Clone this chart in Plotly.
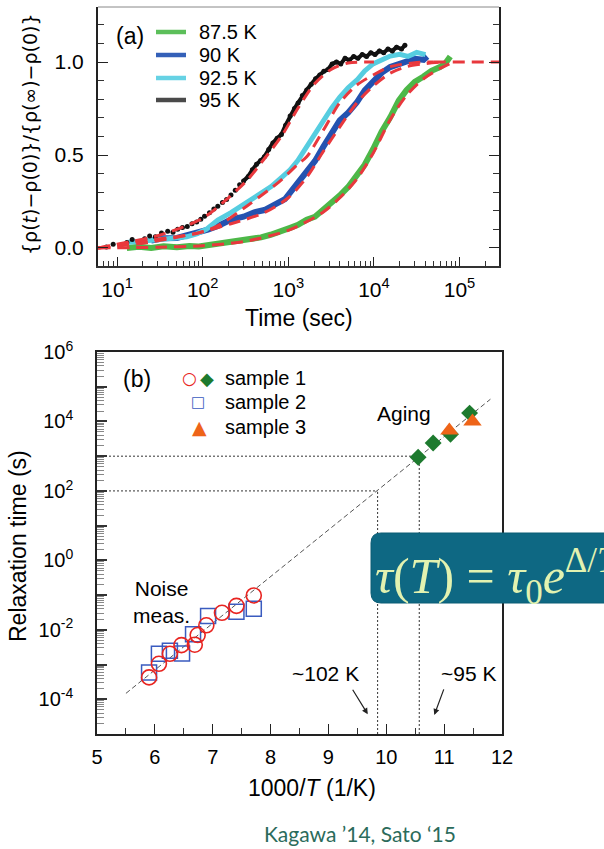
import plotly.graph_objects as go

W, H = 604, 849

# ---------------- panel (a) data : time (s) vs normalised resistivity ----------------
t_875 = [13, 18, 25, 35, 50, 70, 90, 120, 160, 210, 280, 370, 480, 620, 800, 1050, 1300, 1640,
         2050, 2570, 3200, 3980, 5000, 6300, 7800, 9800, 12300, 15500, 19500, 24000, 30000,
         38000, 47000, 59000, 68000, 78000]
r_875 = [0.0, 0.006, 0.0, 0.009, 0.004, 0.011, 0.008, 0.016, 0.02, 0.026, 0.034, 0.046, 0.057,
         0.071, 0.086, 0.108, 0.124, 0.152, 0.168, 0.206, 0.238, 0.282, 0.328, 0.388, 0.448,
         0.532, 0.626, 0.703, 0.792, 0.848, 0.893, 0.922, 0.953, 0.973, 0.992, 1.03]

t_90 = [25, 35, 50, 70, 90, 115, 150, 214, 300, 400, 525, 700, 912, 1050, 1300, 1640, 2050,
        2570, 3200, 3980, 5000, 6300, 7800, 9770, 12300, 15500, 19500, 24000, 30000, 38000, 42000]
r_90 = [0.04, 0.052, 0.054, 0.072, 0.079, 0.098, 0.118, 0.152, 0.168, 0.192, 0.204, 0.232,
        0.262, 0.298, 0.352, 0.402, 0.468, 0.545, 0.618, 0.686, 0.728, 0.782, 0.848, 0.9,
        0.942, 0.973, 0.99, 1.0, 1.018, 1.012, 1.03]

t_925 = [13, 20, 30, 45, 65, 85, 110, 150, 214, 339, 450, 630, 850, 1050, 1290, 1640, 2050,
         2570, 3200, 3980, 5000, 6300, 7800, 9770, 12300, 15500, 20000, 25000, 31600, 40000]
r_925 = [0.03, 0.036, 0.04, 0.052, 0.06, 0.076, 0.1, 0.15, 0.19, 0.25, 0.29, 0.33, 0.382,
         0.42, 0.47, 0.545, 0.62, 0.688, 0.752, 0.81, 0.862, 0.902, 0.952, 0.99, 1.012, 1.032,
         1.042, 1.03, 1.052, 1.04]

t_95 = [7.5, 9, 11, 13, 15, 18, 21, 24, 28, 33, 39, 45, 51, 58, 66, 75, 85, 95, 105, 120,
        135, 150, 170, 190, 214, 240, 270, 300, 340, 380, 425, 475, 525, 590, 660, 740, 830,
        930, 1050, 1180, 1300, 1460, 1640, 1850, 2080, 2330, 2600, 2900, 3250, 3650, 4100,
        4600, 5150, 5800, 6500, 7300, 8200, 9200, 10300, 11600, 13000, 14600, 16400, 18400,
        21000, 23000]
r_95 = [0.005, 0.02, 0.01, 0.03, 0.045, 0.035, 0.05, 0.065, 0.06, 0.08, 0.09, 0.085, 0.10,
        0.11, 0.115, 0.13, 0.14, 0.155, 0.17, 0.19, 0.21, 0.225, 0.245, 0.26, 0.285, 0.31,
        0.34, 0.36, 0.385, 0.42, 0.45, 0.47, 0.49, 0.53, 0.565, 0.59, 0.61, 0.66, 0.71, 0.75,
        0.78, 0.82, 0.85, 0.88, 0.91, 0.93, 0.95, 0.96, 0.99, 1.00, 0.99, 1.02, 1.01, 1.03,
        1.02, 1.04, 1.03, 1.05, 1.04, 1.06, 1.05, 1.07, 1.06, 1.08, 1.07, 1.09]

# fitted curves (red dashed)
fit_875_t = [6, 30, 100, 300, 1000, 2500, 4000, 6300, 9800, 15500, 24000, 38000, 59000, 80000]
fit_875_r = [0.0, 0.004, 0.012, 0.034, 0.095, 0.19, 0.27, 0.37, 0.51, 0.69, 0.82, 0.91, 0.965, 0.995]
fit_90_t = [6, 23, 85, 214, 525, 1000, 1640, 2570, 3980, 6300, 9770, 15500, 24000, 38000, 63000]
fit_90_r = [0.0, 0.03, 0.08, 0.13, 0.19, 0.27, 0.38, 0.52, 0.65, 0.78, 0.87, 0.94, 0.975, 0.99, 1.0]
fit_925_t = [6, 15, 89, 151, 339, 800, 1290, 1640, 2570, 3980, 6300, 9770, 15500, 31600, 50000]
fit_925_r = [0.0, 0.03, 0.08, 0.12, 0.23, 0.36, 0.45, 0.49, 0.634, 0.78, 0.876, 0.93, 0.975, 0.997, 1.0]
fit_95_t = [6, 10, 32, 100, 200, 339, 525, 830, 1290, 2000, 3160, 5000, 10000]
fit_95_r = [0.0, 0.02, 0.07, 0.16, 0.27, 0.37, 0.48, 0.60, 0.75, 0.88, 0.96, 0.995, 1.0]
plateau_t = [50000, 300000]
plateau_r = [1.0, 1.0]

legend_a_labels = ["87.5 K", "90 K", "92.5 K", "95 K"]
legend_a_colors = ["#5cbf5a", "#3460b8", "#66d2e4", "#4a4a4a"]

a_xtick_vals = [10, 100, 1000, 10000, 100000]
a_xtick_text = ["10<sup>1</sup>", "10<sup>2</sup>", "10<sup>3</sup>", "10<sup>4</sup>", "10<sup>5</sup>"]
a_ytick_vals = [0.0, 0.5, 1.0]
a_ytick_text = ["0.0", "0.5", "1.0"]

# ---------------- panel (b) data : 1000/T vs relaxation time ----------------
s1_noise_x = [5.90, 6.07, 6.26, 6.46, 6.69, 6.74, 6.89, 7.16, 7.41, 7.71]
s1_noise_tau = [4.27e-4, 1.05e-3, 2.04e-3, 3.63e-3, 3.72e-3, 7.08e-3, 1.35e-2, 3.09e-2, 4.9e-2, 9.77e-2]
s2_noise_x = [5.90, 6.07, 6.26, 6.47, 6.66, 6.92, 7.41, 7.71]
s2_noise_tau = [5.89e-4, 2.04e-3, 2.51e-3, 2.09e-3, 7.41e-3, 2.51e-2, 3.31e-2, 4.07e-2]
s1_aging_x = [10.55, 10.81, 11.11, 11.44]
s1_aging_tau = [933, 2400, 4270, 17400]
s3_aging_x = [11.09, 11.49]
s3_aging_tau = [5500, 10000]
arrh_x = [5.5, 11.8]
arrh_tau = [1.48e-4, 4.37e4]
guide_x = [9.85, 10.57]
guide_tau = [1e2, 1e3]

b_xtick_vals = [5, 6, 7, 8, 9, 10, 11, 12]
b_ytick_exps = list(range(-5, 7))
b_ytick_vals = [10.0 ** e for e in b_ytick_exps]
b_ytick_text = [("10<sup>%d</sup>" % e) if e % 2 == 0 else "" for e in b_ytick_exps]

FONT = "Liberation Sans, Arial, sans-serif"
RED = "#e8383d"

def P(x, y):
    return x / W, 1 - y / H

fig = go.Figure()

# ---- panel (a) traces ----
fig.add_trace(go.Scatter(x=t_875, y=r_875, mode="lines", line=dict(color="#4db848", width=6),
                         xaxis="x", yaxis="y"))
fig.add_trace(go.Scatter(x=t_90, y=r_90, mode="lines", line=dict(color="#2452b0", width=6),
                         xaxis="x", yaxis="y"))
fig.add_trace(go.Scatter(x=t_925, y=r_925, mode="lines", line=dict(color="#56cde0", width=5),
                         xaxis="x", yaxis="y"))
hi = [i for i, t in enumerate(t_95) if t >= 300]
fig.add_trace(go.Scatter(x=[t_95[i] for i in hi], y=[r_95[i] for i in hi], mode="lines",
                         line=dict(color="#111111", width=4), xaxis="x", yaxis="y"))
fig.add_trace(go.Scatter(x=t_95, y=r_95, mode="markers", marker=dict(color="#111111", size=5),
                         xaxis="x", yaxis="y"))
for ft, fr in [(fit_875_t, fit_875_r), (fit_90_t, fit_90_r), (fit_925_t, fit_925_r),
               (fit_95_t, fit_95_r), (plateau_t, plateau_r)]:
    fig.add_trace(go.Scatter(x=ft, y=fr, mode="lines", line=dict(color=RED, width=3, dash="12px,7px",
                             shape="spline", smoothing=0.8), xaxis="x", yaxis="y"))

# ---- panel (b) traces ----
for gx, gt in zip(guide_x, guide_tau):
    fig.add_trace(go.Scatter(x=[5, gx], y=[gt, gt], mode="lines",
                             line=dict(color="#333333", width=1, dash="2px,2px"), xaxis="x2", yaxis="y2"))
    fig.add_trace(go.Scatter(x=[gx, gx], y=[1e-5, gt], mode="lines",
                             line=dict(color="#333333", width=1, dash="2px,2px"), xaxis="x2", yaxis="y2"))
fig.add_trace(go.Scatter(x=arrh_x, y=arrh_tau, mode="lines",
                         line=dict(color="#555555", width=1, dash="5px,3px"), xaxis="x2", yaxis="y2"))
fig.add_trace(go.Scatter(x=s2_noise_x, y=s2_noise_tau, mode="markers",
                         marker=dict(symbol="square-open", size=15, color="#3a5bbf", line=dict(width=1.5)),
                         xaxis="x2", yaxis="y2"))
fig.add_trace(go.Scatter(x=s1_noise_x, y=s1_noise_tau, mode="markers",
                         marker=dict(symbol="circle-open", size=15, color="#e82420", line=dict(width=1.6)),
                         xaxis="x2", yaxis="y2"))
fig.add_trace(go.Scatter(x=s1_aging_x, y=s1_aging_tau, mode="markers",
                         marker=dict(symbol="diamond", size=13, color="#1d7a2e"),
                         xaxis="x2", yaxis="y2"))
fig.add_trace(go.Scatter(x=s3_aging_x, y=s3_aging_tau, mode="markers",
                         marker=dict(symbol="triangle-up", size=16, color="#ee6418"),
                         xaxis="x2", yaxis="y2"))

# ---- axes ----
a_minor = [m * 10 ** e for e in range(0, 6) for m in range(2, 10)]
b_minor_y = [m * 10.0 ** e for e in range(-5, 6) for m in range(2, 10)]
b_minor_x = [v + 0.5 for v in b_xtick_vals[:-1]]

tickfont_a = dict(family=FONT, size=21, color="black")
tickfont_b = dict(family=FONT, size=20, color="black")

fig.update_layout(
    width=W, height=H, margin=dict(l=0, r=0, t=0, b=0),
    paper_bgcolor="white", plot_bgcolor="white", showlegend=False,
    font=dict(family=FONT, color="black"),
    xaxis=dict(type="log", range=[0.777, 5.461], domain=[98 / W, 499 / W], anchor="y",
               tickmode="array", tickvals=a_xtick_vals, ticktext=a_xtick_text,
               ticks="inside", ticklen=9, tickwidth=1.3, tickcolor="#222",
               showline=True, linecolor="#333", linewidth=2, mirror=False,
               showgrid=False, zeroline=False, tickfont=tickfont_a, ticklabelstandoff=4,
               minor=dict(tickmode="array", tickvals=a_minor, ticks="inside", ticklen=5,
                          tickwidth=1, tickcolor="#333", showgrid=False),
               automargin=False),
    yaxis=dict(range=[-0.097, 1.296], domain=[1 - 266 / H, 1 - 7 / H], anchor="x",
               tickmode="array", tickvals=a_ytick_vals, ticktext=a_ytick_text,
               ticks="inside", ticklen=10, tickwidth=1.3, tickcolor="#222",
               showline=True, linecolor="#222", linewidth=2, mirror="ticks",
               showgrid=False, zeroline=False, tickfont=tickfont_a, ticklabelstandoff=8,
               minor=dict(dtick=0.1, tick0=0, ticks="inside", ticklen=6, tickwidth=1,
                          tickcolor="#333", showgrid=False),
               automargin=False),
    xaxis2=dict(range=[5, 12], domain=[97 / W, 502 / W], anchor="y2",
                tickmode="array", tickvals=b_xtick_vals,
                ticks="inside", ticklen=10, tickwidth=1.3, tickcolor="#222",
                showline=True, linecolor="#222", linewidth=1.5, mirror=True,
                showgrid=False, zeroline=False, tickfont=tickfont_b, ticklabelstandoff=4,
                minor=dict(tickmode="array", tickvals=b_minor_x, ticks="inside", ticklen=6,
                           tickwidth=1, tickcolor="#333", showgrid=False),
                automargin=False),
    yaxis2=dict(type="log", range=[-5, 6], domain=[1 - 734 / H, 1 - 352 / H], anchor="x2",
                tickmode="array", tickvals=b_ytick_vals, ticktext=b_ytick_text,
                ticks="inside", ticklen=10, tickwidth=2, tickcolor="#333",
                showline=True, linecolor="#222", linewidth=1.5, mirror=True,
                showgrid=False, zeroline=False, tickfont=tickfont_b, ticklabelstandoff=18,
                minor=dict(tickmode="array", tickvals=b_minor_y, ticks="inside", ticklen=7,
                           tickwidth=1, tickcolor="#888", showgrid=False),
                automargin=False),
)

shapes = []
# top frame line of panel (a) (thin grey)
shapes.append(dict(type="line", xref="x domain", yref="y domain", x0=0, x1=1, y0=1, y1=1,
                   line=dict(color="#888", width=1)))
# legend lines of panel (a)
leg_rows = [32, 55, 78, 100]
for yy, col in zip(leg_rows, legend_a_colors):
    x0, y0 = P(156, yy)
    x1, _ = P(186, yy)
    shapes.append(dict(type="line", xref="paper", yref="paper", x0=x0, x1=x1, y0=y0, y1=y0,
                       line=dict(color=col, width=4.5)))

# rounded formula box
bx0, bx1, by0, by1, rr = 371, 625, 533, 603, 10
def X(v): return v / W
def Y(v): return 1 - v / H
path = (f"M {X(bx0 + rr)},{Y(by0)} L {X(bx1)},{Y(by0)} L {X(bx1)},{Y(by1)} "
        f"L {X(bx0 + rr)},{Y(by1)} Q {X(bx0)},{Y(by1)} {X(bx0)},{Y(by1 - rr)} "
        f"L {X(bx0)},{Y(by0 + rr)} Q {X(bx0)},{Y(by0)} {X(bx0 + rr)},{Y(by0)} Z")
shapes.append(dict(type="path", xref="paper", yref="paper", path=path,
                   fillcolor="#0e6883", line=dict(color="#0b5c74", width=1), layer="above"))
fig.update_layout(shapes=shapes)

ann = []
def text(px_, py_, s, size, xanchor="center", color="black", family=FONT, angle=0, yanchor="middle"):
    x, y = P(px_, py_)
    ann.append(dict(x=x, y=y, xref="paper", yref="paper", text=s, showarrow=False,
                    xanchor=xanchor, yanchor=yanchor, textangle=angle,
                    font=dict(size=size, color=color, family=family)))

# panel (a) texts
text(130, 36, "(a)", 23)
for yy, lab in zip(leg_rows, legend_a_labels):
    text(197, yy, lab, 20, xanchor="left")
text(299, 318, "Time (sec)", 23)
text(30, 134, "{ρ(<i>t</i>)−ρ(0)}/{ρ(∞)−ρ(0)}", 19, angle=-90,
     family="DejaVu Sans, sans-serif")

# panel (b) texts
text(137, 379, "(b)", 23)
text(189, 378, "<span style='color:#e82420'>○</span>", 17, family="DejaVu Sans")
text(207, 378, "<span style='color:#1d7a2e'>◆</span>", 18, family="DejaVu Sans")
text(198, 402, "<span style='color:#3a5bbf'>□</span>", 15, family="DejaVu Sans")
text(199, 427, "<span style='color:#ee6418'>▲</span>", 19, family="DejaVu Sans")
text(223, 378, "sample 1", 20, xanchor="left")
text(223, 402, "sample 2", 20, xanchor="left")
text(223, 427, "sample 3", 20, xanchor="left")
text(404, 413, "Aging", 21)
text(131, 602, "Noise<br>meas.", 21, xanchor="left")
text(361, 673, "~102 K", 21, xanchor="right")
text(439, 673, "~95 K", 21, xanchor="left")
text(312, 788, "1000/<i>T</i> (1/K)", 23)
text(18, 546, "Relaxation time (s)", 23, angle=-90)
text(360, 848, "Kagawa ’14, Sato ‘15", 21, color="#2b6b5b", family="Lato, sans-serif",
     yanchor="bottom")

# formula
text(373, 576, "<i>τ</i>(<i>T</i>) = <i>τ</i><sub>0</sub><i>e</i><sup>Δ/<i>T</i></sup>", 50,
     xanchor="left", color="#e2f2b0", family="Liberation Serif, serif")

# arrows
ann.append(dict(x=9.68, y=-4.43, xref="x2", yref="y2", ax=-16, ay=-26, text="", showarrow=True,
                arrowhead=2, arrowsize=1, arrowwidth=1.2, arrowcolor="#222"))
ann.append(dict(x=10.83, y=-4.45, xref="x2", yref="y2", ax=10, ay=-27, text="", showarrow=True,
                arrowhead=2, arrowsize=1, arrowwidth=1.2, arrowcolor="#222"))

fig.update_layout(annotations=ann)

fig.write_html("out.html", config={"displayModeBar": False},
               post_script="document.body.style.margin='0';document.body.style.overflow='hidden';")
